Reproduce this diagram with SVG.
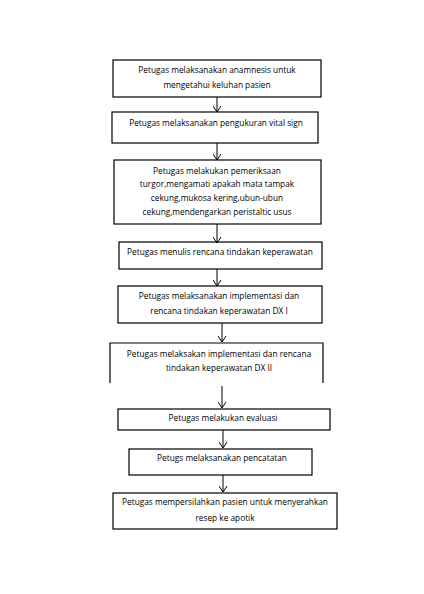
<svg xmlns="http://www.w3.org/2000/svg" width="424" height="594" viewBox="0 0 424 594">
<defs>
<style>
.b{fill:#fff;stroke:#000;stroke-width:1.2}
.t{font-family:"Open Sans","Noto Sans",sans-serif;font-size:8.3px;fill:#000;text-anchor:middle}
.c{stroke:#000;stroke-width:1;fill:none}
</style>
<marker id="ah" markerWidth="8" markerHeight="9" refX="7" refY="4.5" orient="auto" markerUnits="userSpaceOnUse" viewBox="0 0 8 9">
<path d="M1,0.5 L7,4.5 L1,8.5" fill="none" stroke="#000" stroke-width="1"/>
</marker>
</defs>
<rect width="424" height="594" fill="#fff"/>
<g id="n1">
<rect class="b" x="113" y="60" width="208" height="37"/>
<text class="t" x="217" y="73">Petugas melaksanakan anamnesis untuk</text>
<text class="t" x="217" y="88">mengetahui keluhan pasien</text>
</g>
<g id="n2">
<rect class="b" x="112" y="112" width="206" height="31"/>
<text class="t" x="216" y="126">Petugas melaksanakan pengukuran vital sign</text>
</g>
<g id="n3">
<rect class="b" x="114" y="160" width="207" height="64"/>
<text class="t" x="217" y="174">Petugas melakukan pemeriksaan</text>
<text class="t" x="217" y="187">turgor,mengamati apakah mata tampak</text>
<text class="t" x="217" y="201">cekung,mukosa kering,ubun-ubun</text>
<text class="t" x="217" y="215">cekung,mendengarkan peristaltic usus</text>
</g>
<g id="n4">
<rect class="b" x="119" y="242" width="203" height="27"/>
<text class="t" x="220" y="255">Petugas menulis rencana tindakan keperawatan</text>
</g>
<g id="n5">
<rect class="b" x="118" y="286" width="204" height="37"/>
<text class="t" x="219" y="299">Petugas melaksanakan implementasi dan</text>
<text class="t" x="219" y="314">rencana tindakan keperawatan DX I</text>
</g>
<g id="n6">
<path class="b" d="M110,383 V343 H323 V383" fill="none"/>
<text class="t" x="219" y="357">Petugas melaksakan implementasi dan rencana</text>
<text class="t" x="219" y="371">tindakan keperawatan DX II</text>
</g>
<g id="n7">
<rect class="b" x="118" y="409" width="212" height="21"/>
<text class="t" x="223" y="421">Petugas melakukan evaluasi</text>
</g>
<g id="n8">
<rect class="b" x="129" y="449" width="183" height="26"/>
<text class="t" x="222" y="461">Petugs melaksanakan pencatatan</text>
</g>
<g id="n9">
<rect class="b" x="113" y="493" width="224" height="36"/>
<text class="t" x="225" y="505">Petugas mempersilahkan pasien untuk menyerahkan</text>
<text class="t" x="225" y="521">resep ke apotik</text>
</g>
<g id="connectors">
<path class="c" d="M217,97 V112" marker-end="url(#ah)"/>
<path class="c" d="M217,143 V160" marker-end="url(#ah)"/>
<path class="c" d="M217,224 V243" marker-end="url(#ah)"/>
<path class="c" d="M217,269 V286" marker-end="url(#ah)"/>
<path class="c" d="M222,323 V342" marker-end="url(#ah)"/>
<path class="c" d="M222,386 V408" marker-end="url(#ah)"/>
<path class="c" d="M223,430 V448" marker-end="url(#ah)"/>
<path class="c" d="M223,475 V492" marker-end="url(#ah)"/>
</g>
</svg>
